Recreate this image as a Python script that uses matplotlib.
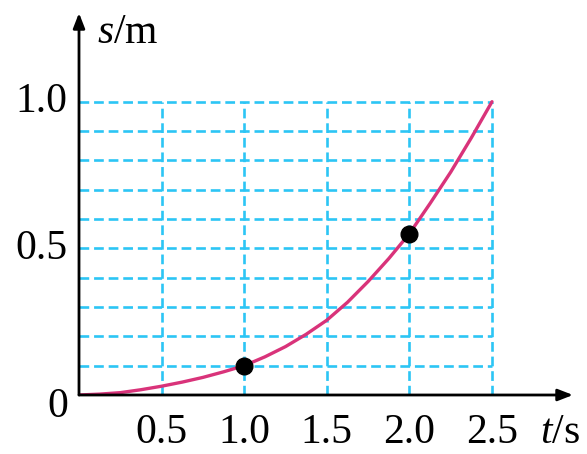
import numpy as np
import matplotlib
matplotlib.use('Agg')
from matplotlib import pyplot as plt

# values
t_curve = [0, 0.125, 0.25, 0.375, 0.5, 0.625, 0.75, 0.875, 1.0, 1.125, 1.25, 1.375,
           1.5, 1.625, 1.75, 1.875, 2.0, 2.125, 2.25, 2.375, 2.5]
s_curve = [0, 0.003, 0.008, 0.018, 0.030, 0.044, 0.060, 0.079, 0.100, 0.130, 0.165, 0.207,
           0.255, 0.316, 0.387, 0.465, 0.550, 0.653, 0.760, 0.877, 1.0]
t_points = [1.0, 2.0]
s_points = [0.10, 0.55]
x_ticks = [0.5, 1.0, 1.5, 2.0, 2.5]
x_labels = ['0.5', '1.0', '1.5', '2.0', '2.5']
y_ticks = [0.5, 1.0]
y_labels = ['0.5', '1.0']
y_grid = [0.1, 0.2, 0.3, 0.4, 0.5, 0.6, 0.7, 0.8, 0.9, 1.0]

plt.rcParams['font.family'] = 'Liberation Serif'
plt.rcParams['lines.scale_dashes'] = False
plt.rcParams['mathtext.fontset'] = 'custom'
plt.rcParams['mathtext.it'] = 'Liberation Serif:italic'
plt.rcParams['mathtext.rm'] = 'Liberation Serif'

fig = plt.figure(figsize=(5.87, 4.54), dpi=100)
ax = fig.add_axes([79/587, 59/454, 494/587, 382/454])
xmax = 494 / 165.2
ymax = 382 / 293.3
ax.set_xlim(0, xmax)
ax.set_ylim(0, ymax)
ax.axis('off')

grid_c = '#2cc5f5'
for y in y_grid:
    ax.plot([0, 2.5], [y, y], color=grid_c, lw=1.9, dashes=(7, 3.5), zorder=1)
for x in x_ticks:
    ax.plot([x, x], [0, 1.0], color=grid_c, lw=1.9, dashes=(7, 3.5), zorder=1)

ax.plot(t_curve, s_curve, color='#d9337a', lw=2.4, zorder=3,
        solid_capstyle='round', solid_joinstyle='round')
ax.plot(t_points, s_points, 'o', color='black', ms=12, zorder=4)

# ejes con flechas
arrow = dict(arrowstyle='-|>,head_length=0.9,head_width=0.35', color='black', lw=2.0,
             shrinkA=0, shrinkB=0)
ax.annotate('', xy=(xmax, 0), xytext=(0, 0), arrowprops=arrow, annotation_clip=False)
ax.annotate('', xy=(0, ymax), xytext=(0, 0), arrowprops=arrow, annotation_clip=False)

fs = 30
for x, lab in zip(x_ticks, x_labels):
    ax.text(x, -0.13, lab, fontsize=fs, ha='center', va='center')
for y, lab in zip(y_ticks, y_labels):
    ax.text(-0.07, y, lab, fontsize=fs, ha='right', va='center')
ax.text(-0.13, -0.04, '0', fontsize=fs, ha='center', va='center')

ax.text(2.79, -0.13, r'$t$/s', fontsize=fs, ha='left', va='center')
ax.text(0.11, 1.235, r'$s$/m', fontsize=fs, ha='left', va='center')

fig.savefig('out.png', dpi=100)
